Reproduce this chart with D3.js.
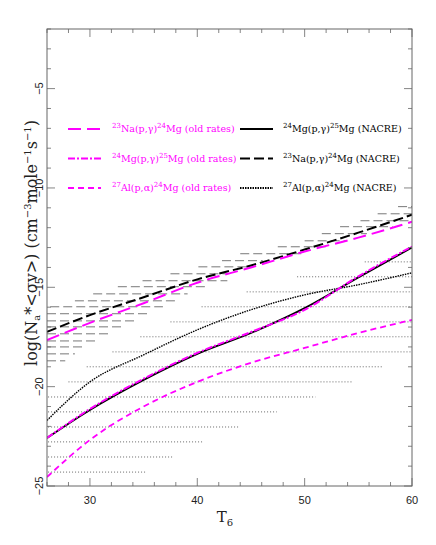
<!DOCTYPE html>
<html><head><meta charset="utf-8">
<script src="https://cdn.jsdelivr.net/npm/d3@7"></script>
<style>body{margin:0;background:#fff}</style>
</head><body><svg id="c" width="436" height="545"></svg>
<script>
const T = [26,30,35,40,45,50,55,60];
const naOld   = [-17.65,-16.79,-15.8,-14.77,-14.0,-13.2,-12.5,-11.7];
const naNacre = [-17.24,-16.4,-15.5,-14.6,-13.9,-13.1,-12.25,-11.35];
const mgOld   = [-22.58,-21.12,-19.6,-18.3,-17.25,-16.13,-14.45,-12.95];
const mgNacre = [-22.58,-21.17,-19.66,-18.35,-17.3,-16.05,-14.5,-13.0];
const alOld   = [-24.55,-22.68,-21.0,-19.76,-18.8,-18.05,-17.3,-16.64];
const alNacre = [-21.7,-19.76,-18.4,-17.14,-16.13,-15.38,-14.87,-14.27];
const dashSegs = [[58.7,60,-10.94],[56.8,60,-11.3],[55.2,60,-11.65],[53.3,58.2,-11.95],[51.6,55.8,-12.3],[50.0,53.9,-12.66],[47.5,52.1,-12.96],[44.0,50.0,-13.31],[42.3,46.1,-13.66],[40.1,45.2,-13.97],[37.5,42.8,-14.32],[34.9,42.8,-14.67],[32.6,40.9,-14.97],[30.3,39.1,-15.33],[28.6,38.1,-15.68],[26.3,36.8,-15.98],[26,35.4,-16.33],[26,34.2,-16.69],[26,33.1,-16.99],[26,31.9,-17.34],[26,30.7,-17.7],[26,29.4,-18.0],[26,28.6,-18.35],[26,27.7,-18.7]];
const dotSegs = [[26.1,35.3,-24.3],[26.1,37.7,-23.54],[26.1,40.5,-22.78],[26.1,43.8,-22.03],[26.1,47.4,-21.27],[26.1,51.0,-20.52],[28.0,54.4,-19.76],[29.7,57.3,-19.0],[32.1,60,-18.25],[34.7,60,-17.49],[37.5,60,-16.74],[40.4,60,-15.98],[44.6,60,-15.23],[49.3,60,-14.47],[55.6,60,-13.72]];
const xTicks = [30,40,50,60];
const yTicks = [-25,-20,-15,-10,-5];
const sup = s=>`<tspan baseline-shift='super' font-size='7'>${s}</tspan>`;
const legend = [
 {t:sup(23)+"Na(p,γ)"+sup(24)+"Mg (old rates)", c:"#ff00ff", d:"13,6", col:0},
 {t:sup(24)+"Mg(p,γ)"+sup(25)+"Mg (old rates)", c:"#ff00ff", d:"7,2,2,2", col:0},
 {t:sup(27)+"Al(p,α)"+sup(24)+"Mg (old rates)", c:"#ff00ff", d:"6,4", col:0},
 {t:sup(24)+"Mg(p,γ)"+sup(25)+"Mg (NACRE)", c:"#000", d:null, col:1},
 {t:sup(23)+"Na(p,γ)"+sup(24)+"Mg (NACRE)", c:"#000", d:"10,4", col:1},
 {t:sup(27)+"Al(p,α)"+sup(24)+"Mg (NACRE)", c:"#000", d:"1.5,1", col:1}
];
const svg = d3.select("#c");
const L=47,R=412,Tp=29,B=486;
const x = d3.scaleLinear().domain([26,60]).range([L,R]);
const y = d3.scaleLinear().domain([-25,-2]).range([B,Tp]);
const g = svg.append("g");
g.append("defs").append("clipPath").attr("id","cp").append("rect").attr("x",L).attr("y",Tp).attr("width",R-L).attr("height",B-Tp);
const pg = g.append("g").attr("clip-path","url(#cp)");
dashSegs.forEach(s=>pg.append("line").attr("x1",x(s[0])).attr("x2",x(s[1])).attr("y1",y(s[2])).attr("y2",y(s[2])).attr("stroke","#555").attr("stroke-width",0.8).attr("stroke-dasharray","9,4"));
dotSegs.forEach(s=>pg.append("line").attr("x1",x(s[0])).attr("x2",x(s[1])).attr("y1",y(s[2])).attr("y2",y(s[2])).attr("stroke","#444").attr("stroke-width",0.8).attr("stroke-dasharray","1,2"));
const line = d3.line().x((d,i)=>x(T[i])).y(d=>y(d)).curve(d3.curveMonotoneX);
function draw(data,c,dash,w){const p=pg.append("path").attr("d",line(data)).attr("fill","none").attr("stroke",c).attr("stroke-width",w);if(dash)p.attr("stroke-dasharray",dash);}
draw(alNacre,"#000","1.5,1",1.4);
draw(mgNacre,"#000",null,1.8);
draw(mgOld,"#ff00ff","7,2,2,2",2);
draw(naNacre,"#000","10,4",2);
draw(naOld,"#ff00ff","13,6",2);
draw(alOld,"#ff00ff","6,4",1.8);
g.append("rect").attr("x",L).attr("y",Tp).attr("width",R-L).attr("height",B-Tp).attr("fill","none").attr("stroke","#666").attr("stroke-width",1);
const tk=g.append("g").attr("stroke","#666").attr("stroke-width",0.8);
for(let v=26;v<=60;v+=2){const len=(v%10===0)?8:4;const X=x(v);
 tk.append("line").attr("x1",X).attr("x2",X).attr("y1",B).attr("y2",B-len);
 tk.append("line").attr("x1",X).attr("x2",X).attr("y1",Tp).attr("y2",Tp+len);}
for(let v=-25;v<=-2;v+=1){const len=(v%5===0)?8:4;const Y=y(v);
 tk.append("line").attr("x1",L).attr("x2",L+len).attr("y1",Y).attr("y2",Y);
 tk.append("line").attr("x1",R).attr("x2",R-len).attr("y1",Y).attr("y2",Y);}
xTicks.forEach(v=>g.append("text").attr("x",x(v)).attr("y",B+18).attr("text-anchor","middle").attr("font-family","Liberation Sans").attr("font-size",11).attr("fill","#222").text(v));
yTicks.forEach(v=>g.append("text").attr("transform",`translate(${L-4},${y(v)}) rotate(-90)`).attr("text-anchor","middle").attr("font-family","Liberation Sans").attr("font-size",11).attr("fill","#222").text("\u2212"+(-v)));
g.append("text").attr("x",225).attr("y",522).attr("text-anchor","middle").attr("font-family","DejaVu Serif").attr("font-size",15).attr("fill","#222").html("T<tspan font-size='10' dy='4'>6</tspan>");
g.append("text").attr("transform","translate(37,243) rotate(-90)").attr("text-anchor","middle").attr("font-family","DejaVu Serif").attr("font-size",16).attr("fill","#222")
 .html("log(N<tspan font-size='10' dy='3'>a</tspan><tspan dy='-3'>*&lt;σv&gt;)  (cm</tspan><tspan font-size='10' dy='-6'>−3</tspan><tspan dy='6'>mole</tspan><tspan font-size='10' dy='-6'>−1</tspan><tspan dy='6'>s</tspan><tspan font-size='10' dy='-6'>−1</tspan><tspan dy='6'>)</tspan>");
legend.forEach((d,i)=>{const r=i%3;const Y=129+r*29.5;const lx=d.col?240:68;const tx=d.col?283:112;
 const l=g.append("line").attr("x1",lx).attr("x2",lx+33).attr("y1",Y).attr("y2",Y).attr("stroke",d.c).attr("stroke-width",2);
 if(d.d)l.attr("stroke-dasharray",d.d);
 g.append("text").attr("x",tx).attr("y",Y+3).attr("font-family","DejaVu Serif").attr("font-size",9.5).attr("fill",d.c).html(d.t);});
</script></body></html>
